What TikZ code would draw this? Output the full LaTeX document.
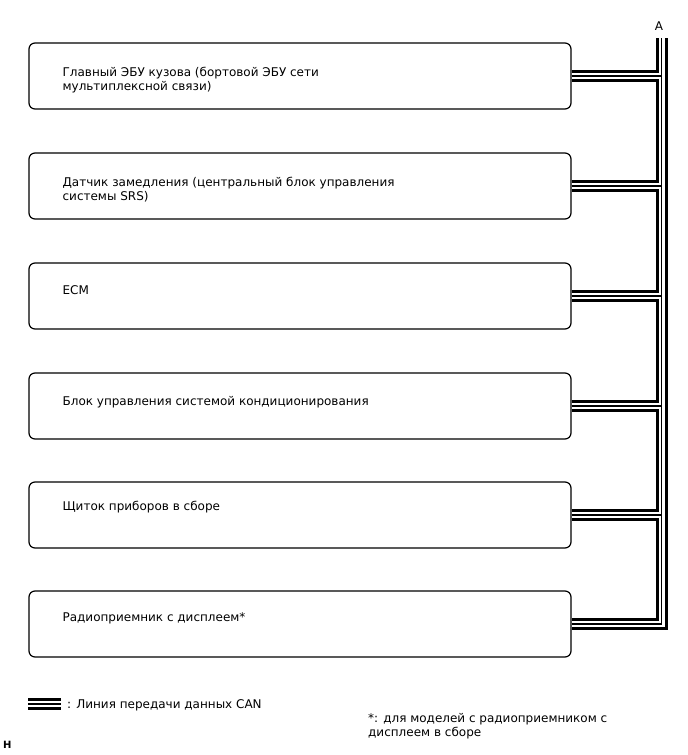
\documentclass[tikz,border=0pt]{standalone}
\usepackage{fontspec}
\setmainfont{DejaVu Sans}
\usetikzlibrary{calc}

\begin{document}
\begin{tikzpicture}[x=1pt, y=-1pt,
    ecu/.style={draw, rounded corners=6, line width=1.2, minimum width=542, minimum height=66, inner sep=0},
    label/.style={anchor=base west, inner sep=0, align=left, font=\fontsize{12}{14}\selectfont},
    can/.style={line width=12, black, line join=miter},
    cangap/.style={line width=6, white, line join=miter},
    canmid/.style={line width=1.2, black, line join=miter}
]
\useasboundingbox (0,0) rectangle (688,755);

% Blocchi ECU
\node[ecu] (b1) at (300,76) {};
\node[ecu] (b2) at (300,186) {};
\node[ecu] (b3) at (300,296) {};
\node[ecu] (b4) at (300,406) {};
\node[ecu] (b5) at (300,515) {};
\node[ecu] (b6) at (300,624) {};

\node[label] (t1) at ($(b1.north west)+(34,48)$) {Главный ЭБУ кузова (бортовой ЭБУ сети\\мультиплексной связи)};
\node[label] (t2) at ($(b2.north west)+(34,48)$) {Датчик замедления (центральный блок управления\\системы SRS)};
\node[label] (t3) at ($(b3.north west)+(34,32)$) {ECM};
\node[label] (t4) at ($(b4.north west)+(34,33)$) {Блок управления системой кондиционирования};
\node[label] (t5) at ($(b5.north west)+(34,29)$) {Щиток приборов в сборе};
\node[label] (t6) at ($(b6.north west)+(34,31)$) {Радиоприемник с дисплеем*};

% Linea CAN
\coordinate (top) at (661.5,38);
\coordinate (c1) at (661.5,76);
\coordinate (c2) at (661.5,186);
\coordinate (c3) at (661.5,296);
\coordinate (c4) at (661.5,406);
\coordinate (c5) at (661.5,515);
\coordinate (c6) at (661.5,624);
\coordinate (lg1) at (28,704);
\coordinate (lg2) at (61,704);

\foreach \layer in {can, cangap, canmid} {
  \draw[\layer] (top) -- (c6) -- (b6.east);
  \draw[\layer] (b1.east) -- (c1);
  \draw[\layer] (b2.east) -- (c2);
  \draw[\layer] (b3.east) -- (c3);
  \draw[\layer] (b4.east) -- (c4);
  \draw[\layer] (b5.east) -- (c5);
  \draw[\layer] (lg1) -- (lg2);
}

\node[font=\fontsize{12}{14}\selectfont, anchor=base, inner sep=0] (A) at (659,30) {A};

% Legenda
\node[label] (lgt) at (67,708) {: Линия передачи данных CAN};
\node[label] (note) at (368,736) {*: для моделей с радиоприемником с\\дисплеем в сборе};
\node[font=\bfseries\fontsize{10}{12}\selectfont, anchor=base west, inner sep=0] (H) at (3,748) {H};

\end{tikzpicture}
\end{document}
